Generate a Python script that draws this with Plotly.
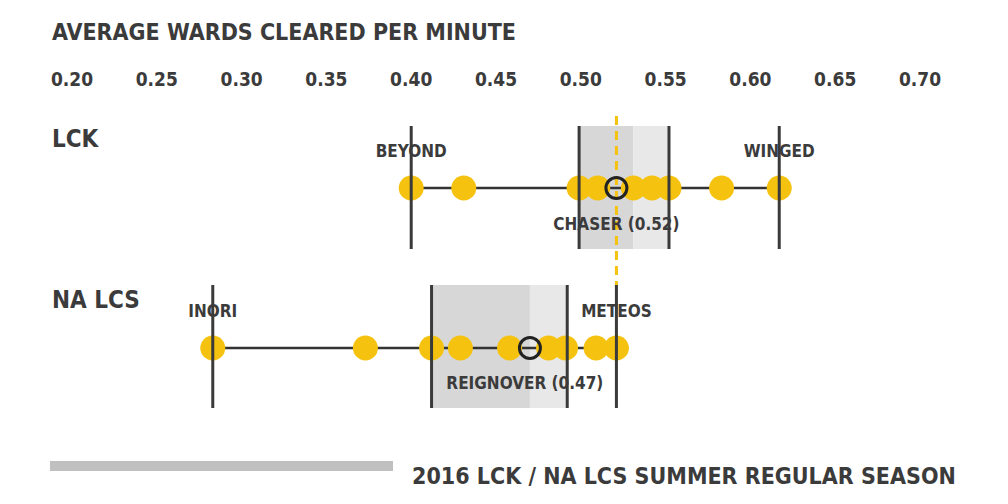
import plotly.graph_objects as go

# values (wards cleared per minute)
tick_vals = [0.20, 0.25, 0.30, 0.35, 0.40, 0.45, 0.50, 0.55, 0.60, 0.65, 0.70]
tick_text = ["0.20", "0.25", "0.30", "0.35", "0.40", "0.45", "0.50", "0.55", "0.60", "0.65", "0.70"]

regions = ["LCK", "NA LCS"]

lck_values = [0.400, 0.431, 0.499, 0.510, 0.531, 0.542, 0.552, 0.583, 0.617]
lck_highlight = 0.521          # Chaser
lck_box = [0.400, 0.499, 0.531, 0.552, 0.617]   # min, q1, median, q3, max
lck_names = ["BEYOND", "WINGED", "CHASER (0.52)"]
lck_name_vals = [0.400, 0.617, 0.521]

na_values = [0.283, 0.373, 0.412, 0.429, 0.458, 0.481, 0.491, 0.509, 0.521]
na_highlight = 0.470           # Reignover
na_box = [0.283, 0.412, 0.470, 0.492, 0.521]
na_names = ["INORI", "METEOS", "REIGNOVER (0.47)"]
na_name_vals = [0.283, 0.521, 0.467]

FONT = "DejaVu Sans Condensed, Liberation Sans Narrow, sans-serif"
TXT = "#3b3b3b"
YEL = "#F5C30F"

# the page has an 8px body margin, so the plot starts at page (8, 8)
W, H, OFF = 1000, 496, 8


def px(x):
    # page pixel -> paper fraction
    return (x - OFF) / W


# row layout in page pixels (y axis runs top to bottom)
rows = [
    dict(vals=lck_values, hi=lck_highlight, box=lck_box, names=lck_names, nv=lck_name_vals,
         y=188, top=126, bot=249, lab_y=153, hi_lab_y=226, title_y=139),
    dict(vals=na_values, hi=na_highlight, box=na_box, names=na_names, nv=na_name_vals,
         y=348, top=285, bot=408, lab_y=313, hi_lab_y=385, title_y=300),
]

fig = go.Figure()
below = []
above = []
annotations = []

for r, name in zip(rows, regions):
    mn, q1, med, q3, mx = r["box"]
    below.append(dict(type="rect", xref="x", yref="y", x0=q1, x1=med, y0=r["top"], y1=r["bot"],
                      fillcolor="#d7d7d7", line_width=0, layer="below"))
    below.append(dict(type="rect", xref="x", yref="y", x0=med, x1=q3, y0=r["top"], y1=r["bot"],
                      fillcolor="#e8e8e8", line_width=0, layer="below"))
    for v in [mn, q1, q3, mx]:
        above.append(dict(type="line", xref="x", yref="y", x0=v, x1=v, y0=r["top"], y1=r["bot"],
                          line=dict(color="#3a3a3a", width=3), layer="above"))

# dashed reference line at Chaser
below.append(dict(type="line", xref="x", yref="y", x0=lck_highlight, x1=lck_highlight, y0=116, y1=286,
                  line=dict(color=YEL, width=3, dash="9px,6px"), layer="below"))

for r, name in zip(rows, regions):
    mn, q1, med, q3, mx = r["box"]
    below.append(dict(type="line", xref="x", yref="y", x0=mn, x1=mx, y0=r["y"], y1=r["y"],
                      line=dict(color="#333333", width=2.5), layer="below"))
    fig.add_trace(go.Scatter(x=r["vals"], y=[r["y"]] * len(r["vals"]), mode="markers",
                             marker=dict(size=25, color=YEL, line_width=0),
                             hoverinfo="x", showlegend=False))
    fig.add_trace(go.Scatter(x=[r["hi"]], y=[r["y"]], mode="markers",
                             marker=dict(size=21, color="rgba(0,0,0,0)",
                                         line=dict(color="#222222", width=3)),
                             hoverinfo="x", showlegend=False))
    ys = [r["lab_y"], r["lab_y"], r["hi_lab_y"]]
    fig.add_trace(go.Scatter(x=r["nv"], y=ys, mode="text", text=["<b>%s</b>" % t for t in r["names"]],
                             textfont=dict(family=FONT, size=17, color=TXT),
                             textposition="middle center", hoverinfo="skip", showlegend=False))
    annotations.append(dict(x=px(50), y=r["title_y"], xref="paper", yref="y", text="<b>%s</b>" % name,
                            showarrow=False, xanchor="left", yanchor="middle",
                            font=dict(family=FONT, size=24, color=TXT)))

# bottom bar
above.append(dict(type="rect", xref="paper", yref="y", x0=px(50), x1=px(393), y0=461, y1=471,
                  fillcolor="#c0c0c0", line_width=0))

# tick labels across the top
fig.add_trace(go.Scatter(x=tick_vals, y=[81] * len(tick_vals), mode="text",
                         text=["<b>%s</b>" % t for t in tick_text],
                         textfont=dict(family=FONT, size=19, color=TXT), hoverinfo="skip", showlegend=False))

annotations.append(dict(x=px(50), y=32, xref="paper", yref="y", text="<b>AVERAGE WARDS CLEARED PER MINUTE</b>",
                        showarrow=False, xanchor="left", yanchor="middle",
                        font=dict(family=FONT, size=23, color=TXT)))
annotations.append(dict(x=px(958), y=476, xref="paper", yref="y",
                        text="<b>2016 LCK / NA LCS SUMMER REGULAR SEASON</b>",
                        showarrow=False, xanchor="right", yanchor="middle",
                        font=dict(family=FONT, size=23, color=TXT)))

fig.update_layout(
    width=W, height=H,
    margin=dict(l=0, r=0, t=0, b=0),
    paper_bgcolor="white", plot_bgcolor="white",
    xaxis=dict(range=[0.2 - (72 - OFF) / 1696, 0.2 + (1008 - 72) / 1696], visible=False, fixedrange=True),
    yaxis=dict(range=[504, OFF], visible=False, fixedrange=True),
    shapes=below + above, annotations=annotations,
    font=dict(family=FONT, color=TXT),
)

fig.write_html("out.html")
